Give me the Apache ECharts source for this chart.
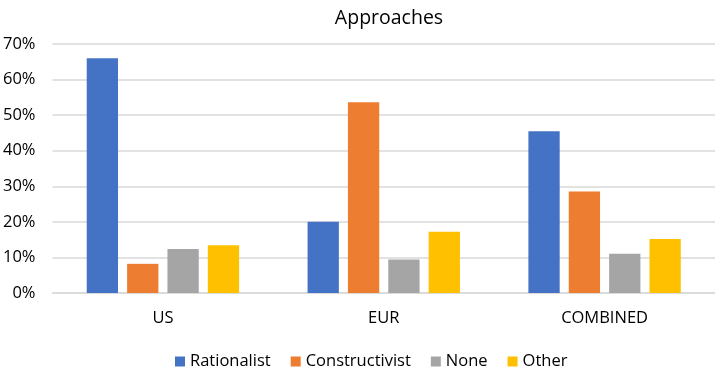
<!DOCTYPE html>
<html>
<head>
<meta charset="utf-8">
<script src="https://cdn.jsdelivr.net/npm/echarts@6/dist/echarts.min.js"></script>
<style>
  html, body { margin: 0; padding: 0; background: #fff; }
  #main { width: 715px; height: 371px; }
</style>
</head>
<body>
<div id="main"></div>
<script>
var categories = ['US', 'EUR', 'COMBINED'];
var rationalist = [66.0, 20.0, 45.5];
var constructivist = [8.2, 53.6, 28.5];
var none = [12.4, 9.4, 11.0];
var other = [13.4, 17.2, 15.2];
var yTicks = [0, 10, 20, 30, 40, 50, 60, 70];

var fontFamily = '"Open Sans", "Noto Sans", sans-serif';

var myChart = echarts.init(document.getElementById('main'));

function bar(name, data) {
    return {
        name: name,
        type: 'bar',
        data: data,
        barGap: '29%',
        barCategoryGap: '31%'
    };
}

var option = {
    animation: false,
    color: ['#4472C4', '#ED7D31', '#A5A5A5', '#FFC000'],
    title: {
        text: 'Approaches',
        left: 384,
        textAlign: 'center',
        top: 3,
        textStyle: {
            fontFamily: fontFamily,
            fontSize: 19.5,
            fontWeight: 'normal',
            color: '#000'
        }
    },
    legend: {
        top: 348,
        left: 170,
        itemWidth: 10,
        itemHeight: 10,
        itemGap: 20,
        icon: 'rect',
        textStyle: {
            fontFamily: fontFamily,
            fontSize: 16.5,
            color: '#000'
        },
        data: ['Rationalist', 'Constructivist', 'None', 'Other']
    },
    grid: {
        left: 50,
        right: -1,
        top: 44,
        bottom: 78
    },
    xAxis: {
        type: 'category',
        data: categories,
        axisTick: { show: false },
        axisLine: { lineStyle: { color: '#d9d9d9', width: 1.5 } },
        axisLabel: {
            fontFamily: fontFamily,
            fontSize: 16.5,
            color: '#000',
            margin: 17
        }
    },
    yAxis: {
        type: 'value',
        min: yTicks[0],
        max: yTicks[yTicks.length - 1],
        interval: 10,
        axisLine: { show: false },
        axisTick: { show: false },
        splitLine: { lineStyle: { color: '#d9d9d9', width: 1.5 } },
        axisLabel: {
            fontFamily: fontFamily,
            fontSize: 16.5,
            color: '#000',
            margin: 17,
            formatter: '{value}%'
        }
    },
    series: [
        bar('Rationalist', rationalist),
        bar('Constructivist', constructivist),
        bar('None', none),
        bar('Other', other)
    ]
};
myChart.setOption(option);
</script>
</body>
</html>
